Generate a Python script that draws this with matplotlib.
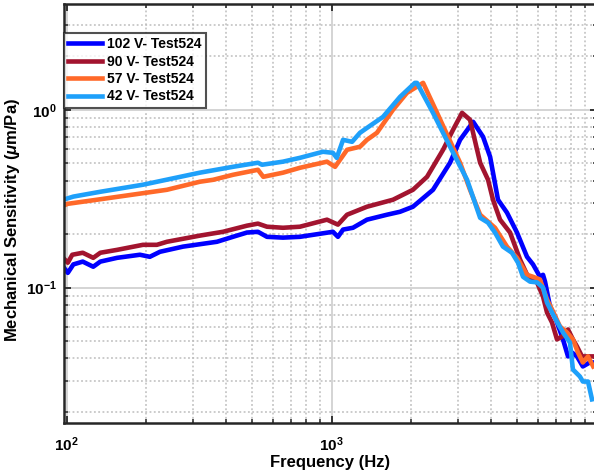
import matplotlib
matplotlib.use("Agg")
import matplotlib.pyplot as plt
from matplotlib.ticker import LogLocator, NullFormatter

plt.rcParams['font.family'] = ['Liberation Sans', 'DejaVu Sans']
plt.rcParams['font.weight'] = 'bold'
plt.rcParams['mathtext.fontset'] = 'custom'
plt.rcParams['mathtext.rm'] = 'Liberation Sans:bold'
plt.rcParams['mathtext.it'] = 'Liberation Sans:bold:italic'
plt.rcParams['mathtext.default'] = 'regular'

# 102 V
f_102 = [97, 101, 106, 115, 126, 134, 155, 189, 206, 225, 275, 369, 424, 479,
         527, 570, 655, 759, 1011, 1056, 1104, 1203, 1359, 1617, 1811, 2026,
         2412, 2797, 3051, 3419, 3726, 3961, 4242, 4586, 5003, 5458, 5751,
         6109, 6272, 6383, 6665, 6960, 7461, 7794, 8069, 8425, 8866, 9420,
         9700]
s_102 = [0.131, 0.121, 0.135, 0.140, 0.131, 0.140, 0.147, 0.153, 0.149, 0.159,
         0.170, 0.181, 0.193, 0.204, 0.206, 0.193, 0.191, 0.193, 0.206, 0.193,
         0.212, 0.217, 0.241, 0.257, 0.267, 0.285, 0.355, 0.504, 0.678, 0.856,
         0.705, 0.544, 0.312, 0.264, 0.204, 0.149, 0.135, 0.115, 0.118, 0.108,
         0.0782, 0.0687, 0.0511, 0.0410, 0.0431, 0.0410, 0.0360, 0.0379,
         0.0379]

# 90 V
f_90 = [97, 101, 105, 115, 126, 134, 155, 194, 219, 239, 318, 389, 479, 527,
        570, 655, 759, 960, 1056, 1143, 1359, 1703, 2026, 2290, 2632, 2870,
        3104, 3327, 3632, 3891, 4062, 4318, 4711, 5136, 5507, 5953, 6272,
        6494, 6782, 7083, 7396, 7794, 8133, 8425, 8801, 9192, 9700]
s_90 = [0.147, 0.138, 0.153, 0.157, 0.147, 0.157, 0.163, 0.174, 0.174, 0.181,
        0.196, 0.206, 0.223, 0.229, 0.220, 0.217, 0.220, 0.241, 0.226, 0.257,
        0.285, 0.312, 0.355, 0.420, 0.596, 0.772, 0.962, 0.879, 0.504, 0.404,
        0.312, 0.241, 0.204, 0.144, 0.115, 0.107, 0.0890, 0.0724, 0.0636,
        0.0511, 0.0530, 0.0581, 0.0511, 0.0466, 0.0410, 0.0410, 0.0410]

# 57 V
f_57 = [97, 101, 130, 239, 318, 357, 424, 527, 552, 655, 759, 960, 1030,
        1143, 1279, 1359, 1482, 1703, 1923, 2213, 2498, 3051, 3327, 3632,
        4133, 4586, 5003, 5458, 5751, 6109, 6494, 6782, 7269, 7725, 8133,
        8498, 8866, 9272, 9700]
s_57 = [0.289, 0.296, 0.312, 0.355, 0.394, 0.404, 0.431, 0.460, 0.420, 0.443,
        0.472, 0.511, 0.478, 0.596, 0.620, 0.678, 0.743, 1.00, 1.246, 1.418,
        0.962, 0.504, 0.355, 0.257, 0.217, 0.170, 0.147, 0.118, 0.115, 0.111,
        0.0857, 0.0752, 0.0604, 0.0559, 0.0511, 0.0431, 0.0379, 0.0410,
        0.0360]

# 42 V
f_42 = [97, 106, 134, 194, 318, 424, 527, 546, 655, 759, 927, 1011, 1045,
        1104, 1194, 1279, 1395, 1562, 1811, 2061, 2098, 2412, 2797, 3243,
        3632, 3889, 4133, 4430, 4790, 5047, 5273, 5603, 5953, 6272, 6494,
        6846, 7461, 7926, 8133, 8640, 8866, 9272, 9600]
s_42 = [0.312, 0.325, 0.346, 0.379, 0.443, 0.478, 0.504, 0.491, 0.511, 0.537,
        0.581, 0.573, 0.537, 0.678, 0.661, 0.743, 0.813, 0.913, 1.183, 1.418,
        1.418, 0.962, 0.620, 0.404, 0.247, 0.232, 0.204, 0.170, 0.157, 0.138,
        0.115, 0.108, 0.107, 0.100, 0.0823, 0.0705, 0.0559, 0.0491, 0.0346,
        0.0316, 0.0296, 0.0296, 0.0235]

series = [
    (f_102, s_102, '#0000FF', '102 V- Test524'),
    (f_90, s_90, '#A2142F', '90 V- Test524'),
    (f_57, s_57, '#FF6929', '57 V- Test524'),
    (f_42, s_42, '#1EA0FA', '42 V- Test524'),
]

fig = plt.figure(figsize=(5.94, 4.74), dpi=100)
ax = fig.add_axes([63.5 / 594, 51 / 474, 533.2 / 594, 419 / 474])

for f, s, c, lab in series:
    ax.plot(f, s, color=c, lw=3.3, label=lab, solid_joinstyle='round')

ax.set_xscale('log')
ax.set_yscale('log')

ax.set_xticks([1e2, 1e3, 1e4], labels=['$10^2$', '$10^3$', ''])
ax.set_yticks([1e-1, 1e0], labels=['$10^{-1}$', '$10^0$'])
ax.xaxis.set_minor_locator(LogLocator(base=10, subs=range(2, 10), numticks=20))
ax.yaxis.set_minor_locator(LogLocator(base=10, subs=range(2, 10), numticks=20))
ax.xaxis.set_minor_formatter(NullFormatter())
ax.yaxis.set_minor_formatter(NullFormatter())
ax.set_xlim(97.3, 1e4)
ax.set_ylim(0.0173, 3.94)

ax.grid(True, which='major', color='#d4d4d4', lw=1.4, ls='-')
ax.grid(True, which='minor', color='#bdbdbd', lw=1.1, ls=(0, (1.2, 1.6)))
ax.set_axisbelow(True)

ax.tick_params(which='both', direction='in', top=True, right=True,
               labelsize=11, color='#262626')
ax.tick_params(axis='x', pad=9)
ax.tick_params(axis='y', pad=5)
ax.tick_params(which='major', length=5, width=1.3)
ax.tick_params(which='minor', length=3, width=1.1)
for sp in ax.spines.values():
    sp.set_linewidth(1.8)
    sp.set_color('#262626')

ax.set_xlabel('Frequency (Hz)', fontsize=12, fontweight='bold', labelpad=1)
ax.set_ylabel(r'Mechanical Sensitivity ($\mathit{\mu}$m/Pa)', fontsize=12,
              fontweight='bold')
ax.yaxis.set_label_coords(-0.078, 0.485)

leg = ax.legend(loc='upper left', bbox_to_anchor=(0.0, 0.931), fontsize=10,
                frameon=True, fancybox=False, handlelength=2.5,
                borderpad=0.3, labelspacing=0.25, handletextpad=0.35,
                borderaxespad=0.0)
leg.get_frame().set_edgecolor('#262626')
leg.get_frame().set_linewidth(1.5)
for t in leg.get_texts():
    t.set_fontweight('bold')

fig.savefig('out.png', dpi=100)
